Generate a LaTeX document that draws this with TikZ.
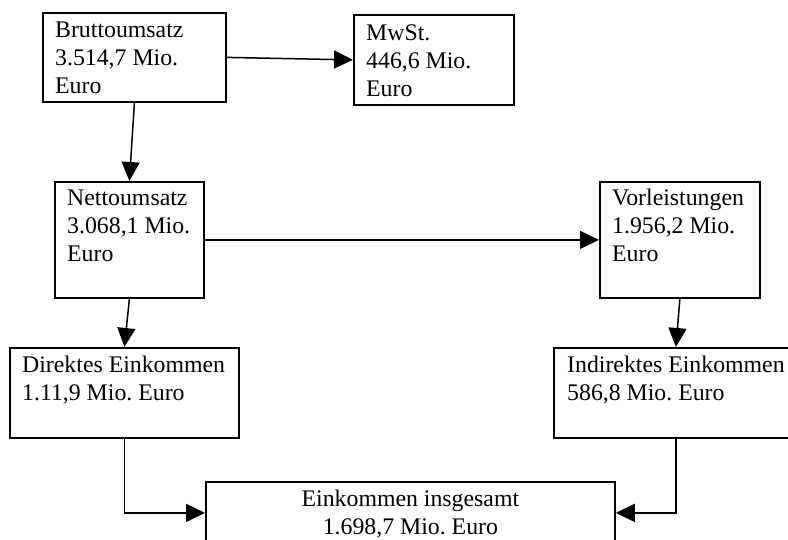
\documentclass[tikz,border=0pt]{standalone}
\usepackage{fontspec}
\setmainfont{Liberation Serif}
\usetikzlibrary{arrows.meta,calc}
\frenchspacing
\newcommand{\topstr}{\rule{0pt}{17.8pt}}
\tikzset{
  box/.style={draw, line width=1.8pt, fill=white, inner sep=0pt, anchor=north west},
  txt/.style={anchor=north west, inner sep=0pt, align=left, font=\fontsize{23.8}{28}\selectfont},
  ctxt/.style={anchor=north, inner sep=0pt, align=center, font=\fontsize{23.8}{28}\selectfont},
  conn/.style={line width=1.5pt, -{Triangle[length=19pt,width=18pt]}}
}
\begin{document}
\frenchspacing
\begin{tikzpicture}[x=1pt,y=-1pt]
\useasboundingbox (0,0) rectangle (788,540);
\clip (0,0) rectangle (788,540);
% boxes
\node[box, minimum width=183pt, minimum height=89pt] (brutto) at (42,12) {};
\node[box, minimum width=160pt, minimum height=90pt] (mwst) at (353,14) {};
\node[box, minimum width=149pt, minimum height=116pt] (netto) at (54,181) {};
\node[box, minimum width=160pt, minimum height=116pt] (vorl) at (599,181) {};
\node[box, minimum width=229pt, minimum height=90pt] (direkt) at (9,347) {};
\node[box, minimum width=244pt, minimum height=90pt] (indirekt) at (553,347) {};
\node[box, minimum width=409pt, minimum height=62pt] (gesamt) at (205,481) {};
% texts
\node[txt] (tbrutto) at ($(brutto.north west)+(13,7.2)$) {\topstr Bruttoumsatz\\3.514,7 Mio.\\Euro};
\node[txt] (tmwst) at ($(mwst.north west)+(13,8.2)$) {\topstr MwSt.\\446,6 Mio.\\Euro};
\node[txt] (tnetto) at ($(netto.north west)+(13,6.2)$) {\topstr Nettoumsatz\\3.068,1 Mio.\\Euro};
\node[txt] (tvorl) at ($(vorl.north west)+(13,6.2)$) {\topstr Vorleistungen\\1.956,2 Mio.\\Euro};
\node[txt] (tdirekt) at ($(direkt.north west)+(13,7.2)$) {\topstr Direktes Einkommen\\1.11,9 Mio. Euro};
\node[txt] (tindirekt) at ($(indirekt.north west)+(14,7.2)$) {\topstr Indirektes Einkommen\\586,8 Mio. Euro};
\node[ctxt] (tgesamt) at ($(gesamt.north)+(0,7.2)$) {\topstr Einkommen insgesamt\\1.698,7 Mio. Euro};
% connectors
\draw[conn] (brutto.east) -- (mwst.west);
\draw[conn] (brutto.south) -- (netto.north);
\draw[conn] (netto.east) -- (vorl.west);
\draw[conn] (netto.south) -- (direkt.north);
\draw[conn] (vorl.south) -- (indirekt.north);
\draw[conn] (direkt.south) |- (gesamt.west);
\draw[conn] (indirekt.south) |- (gesamt.east);
\end{tikzpicture}
\end{document}
